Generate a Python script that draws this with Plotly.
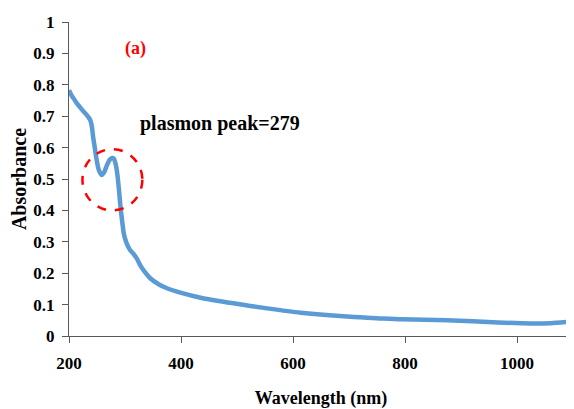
import plotly.graph_objects as go

wavelength = [200, 205, 210, 214, 220, 226, 232, 238, 241, 243, 246, 249, 253, 258, 263, 268, 273, 277,
              280, 283, 286, 289, 292, 295, 298, 303, 309, 315, 321, 327, 335, 345, 360, 375, 399, 435,
              494, 554, 614, 703, 757, 793, 876, 966, 1025, 1060, 1100]
absorbance = [0.783, 0.765, 0.752, 0.741, 0.728, 0.715, 0.703, 0.688, 0.665, 0.635, 0.600, 0.565, 0.530,
              0.513, 0.522, 0.545, 0.562, 0.567, 0.565, 0.550, 0.520, 0.470, 0.410, 0.365, 0.325, 0.295,
              0.274, 0.262, 0.247, 0.226, 0.205, 0.184, 0.165, 0.152, 0.138, 0.122, 0.104, 0.088, 0.074,
              0.061, 0.056, 0.053, 0.050, 0.043, 0.040, 0.041, 0.046]
x_ticks = [200, 400, 600, 800, 1000]
y_ticks = [0, 0.1, 0.2, 0.3, 0.4, 0.5, 0.6, 0.7, 0.8, 0.9, 1]
y_labels = ["0", "0.1", "0.2", "0.3", "0.4", "0.5", "0.6", "0.7", "0.8", "0.9", "1"]
peak_label = "plasmon peak=279"
panel_label = "(a)"

FONT = "Liberation Serif, Times New Roman, serif"

fig = go.Figure()
fig.add_trace(go.Scatter(x=wavelength, y=absorbance, mode="lines",
                         line=dict(color="#5B9BD5", width=4.5, shape="spline", smoothing=0.6),
                         showlegend=False, hoverinfo="skip"))

fig.add_shape(type="circle", xref="x", yref="y", x0=224, x1=331, y0=0.40, y1=0.595,
              line=dict(color="#FF0000", width=2.5, dash="dash"))

fig.add_annotation(x=470, y=0.677, text="<b>" + peak_label + "</b>", showarrow=False,
                   font=dict(family=FONT, size=20, color="black"))
fig.add_annotation(x=318, y=0.917, text="<b>" + panel_label + "</b>", showarrow=False,
                   font=dict(family=FONT, size=18, color="#FF0000"))

# page body has an 8px default margin, so the figure is sized/offset to compensate
fig.update_layout(
    width=566, height=401,
    margin=dict(l=61, r=1, t=14, b=73, autoexpand=False),
    paper_bgcolor="white", plot_bgcolor="white",
    font=dict(family=FONT, color="black"),
)
fig.update_xaxes(range=[200, 1100], tickvals=x_ticks, ticktext=["<b>%d</b>" % v for v in x_ticks],
                 automargin=False,
                 showgrid=False, zeroline=False, showline=True, linecolor="#595959", linewidth=1,
                 ticks="outside", ticklen=6, tickcolor="#595959", ticklabelstandoff=6,
                 tickfont=dict(family=FONT, size=17, color="black"),
                 title=dict(text="<b>Wavelength (nm)</b>", font=dict(family=FONT, size=18, color="black"),
                            standoff=18))
fig.update_yaxes(range=[0, 1], tickvals=y_ticks, ticktext=["<b>%s</b>" % t for t in y_labels],
                 automargin=False,
                 showgrid=False, zeroline=False, showline=True, linecolor="#595959", linewidth=1,
                 ticks="outside", ticklen=6, tickcolor="#595959", ticklabelstandoff=4,
                 tickfont=dict(family=FONT, size=17, color="black"),
                 title=dict(text="<b>Absorbance</b>", font=dict(family=FONT, size=20, color="black"),
                            standoff=4))

fig.write_html("out.html")
